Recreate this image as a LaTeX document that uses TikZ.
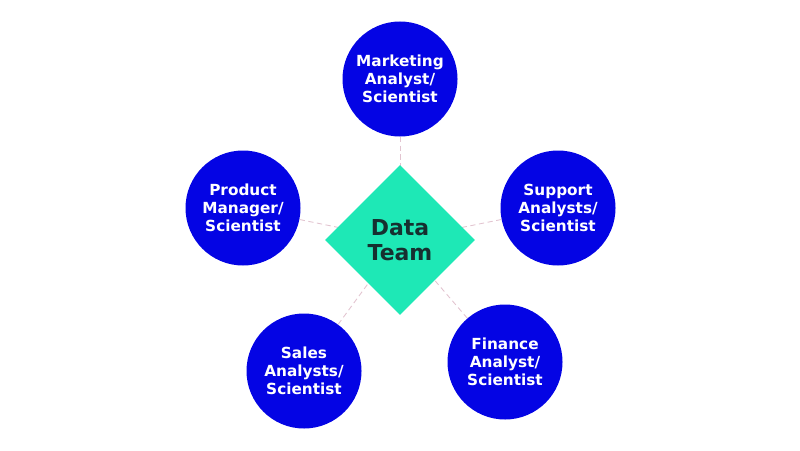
\documentclass[tikz,border=0pt]{standalone}
\usepackage{fontspec}
\setmainfont{DejaVu Sans}
\usetikzlibrary{shapes.geometric}
\definecolor{roleblue}{RGB}{4,4,228}
\definecolor{teamgreen}{RGB}{30,232,182}
\definecolor{teamtext}{RGB}{22,48,48}
\definecolor{linkpink}{RGB}{226,196,208}
\tikzset{
  role/.style ={circle, fill=roleblue, minimum size=2.3cm, inner sep=0pt, text=white, align=center, font=\bfseries\fontsize{8.7}{10.3}\selectfont},
  team/.style ={diamond, fill=teamgreen, minimum size=3cm, inner sep=0pt, text=teamtext, align=center, font=\bfseries\fontsize{12.5}{14.2}\selectfont},
  link/.style ={densely dashed, line width=0.5pt, linkpink},
}
\begin{document}
\begin{tikzpicture}
  \useasboundingbox (0,0) rectangle (16,9);
  % roles round the team
  \node[role] (mkt) at (8,7.42) {Marketing\\Analyst/\\Scientist};
  \node[role] (prd) at (4.86,4.84) {Product\\Manager/\\Scientist};
  \node[role] (sup) at (11.16,4.84) {Support\\Analysts/\\Scientist};
  \node[role] (sal) at (6.08,1.58) {Sales\\Analysts/\\Scientist};
  \node[role] (fin) at (10.1,1.76) {Finance\\Analyst/\\Scientist};

  % links
  \coordinate (hub) at (8,4.2);
  \draw[link] (mkt) -- (hub);
  \draw[link] (prd) -- (hub);
  \draw[link] (sup) -- (hub);
  \draw[link] (sal) -- (hub);
  \draw[link] (fin) -- (hub);

  % team
  \node[team] (team) at (hub) {Data\\Team};
\end{tikzpicture}
\end{document}
